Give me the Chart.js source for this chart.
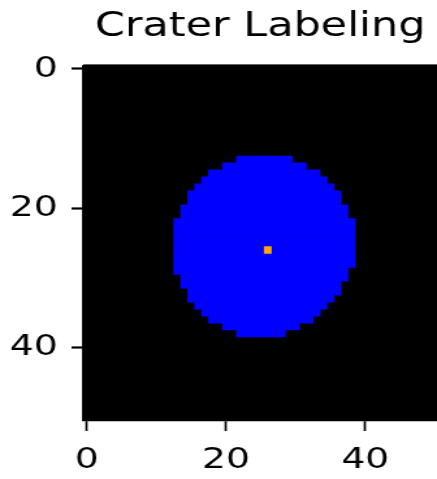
<!DOCTYPE html>
<html lang="en">
  <head>
    <meta charset="utf-8" />
    <title>Crater Labeling</title>
    <style>
      * {
        margin: 0;
        padding: 0;
      }
      body {
        background: white;
        width: 437px;
        height: 479px;
        overflow: hidden;
      }
      #myChart {
        display: block;
      }
    </style>
  </head>
  <body>
    <!-- drawn narrow, then stretched wide like the reference picture -->
    <canvas id="myChart" width="336" height="479" style="width: 437px; height: 479px"></canvas>

    <script src="https://cdn.jsdelivr.net/npm/chart.js@4.4.1/dist/chart.umd.min.js"></script>

    <script>
      // labelled cells of the 51 x 51 mask: one run of columns per row
      const craterRows = [13, 14, 15, 16, 17, 18, 19, 20, 21, 22, 23, 24, 25, 26, 27, 28, 29, 30, 31, 32, 33, 34, 35, 36, 37, 38];
      const craterStart = [22, 20, 18, 17, 16, 15, 15, 14, 14, 13, 13, 13, 13, 13, 13, 13, 13, 14, 14, 15, 15, 16, 17, 18, 20, 22];
      const craterEnd = [29, 31, 33, 34, 35, 36, 36, 37, 37, 38, 38, 38, 38, 38, 38, 38, 37, 37, 36, 36, 35, 34, 33, 32, 30, 28];
      const centerRow = [26];
      const centerCol = [26];
      const xTicks = [0, 20, 40];
      const yTicks = [0, 20, 40];

      Chart.defaults.font.family = "'DejaVu Sans', sans-serif";

      const cells = (rows, starts, ends) =>
        rows.map((r, i) => ({ y: r, x: [starts[i] - 0.5, ends[i] + 0.5] }));

      const blackImage = {
        id: "blackImage",
        beforeDraw(chart) {
          const { ctx, chartArea } = chart;
          ctx.save();
          ctx.fillStyle = "#fff";
          ctx.fillRect(0, 0, chart.width, chart.height);
          ctx.fillStyle = "#000";
          ctx.fillRect(chartArea.left, chartArea.top - 1.1, chartArea.width, chartArea.height + 1.1);
          ctx.restore();
        },
      };

      const barStyle = {
        barPercentage: 1,
        categoryPercentage: 1,
        grouped: false,
        borderWidth: 0,
      };

      const config = {
        type: "bar",
        data: {
          datasets: [
            {
              label: "crater",
              data: cells(craterRows, craterStart, craterEnd),
              backgroundColor: "#0000ff",
              order: 2,
              ...barStyle,
            },
            {
              label: "center",
              data: cells(centerRow, centerCol, centerCol),
              backgroundColor: "#ffa500",
              order: 1,
              ...barStyle,
            },
          ],
        },
        options: {
          indexAxis: "y",
          responsive: false,
          maintainAspectRatio: false,
          devicePixelRatio: 1,
          animation: false,
          events: [],
          layout: { padding: 0 },
          scales: {
            x: {
              type: "linear",
              position: "bottom",
              min: -0.5,
              max: 50.3,
              offset: false,
              afterBuildTicks: (s) => {
                s.ticks = xTicks.map((v) => ({ value: v }));
              },
              afterFit: (s) => {
                s.height = 58.5;
              },
              ticks: {
                color: "#000",
                font: { size: 29 },
                padding: 12,
                maxRotation: 0,
                autoSkip: false,
              },
              grid: {
                drawOnChartArea: false,
                drawTicks: true,
                tickLength: 10.5,
                tickWidth: 1.7,
                tickColor: "#000",
                offset: false,
              },
              border: { display: true, color: "#000", width: 2.2 },
            },
            y: {
              type: "linear",
              position: "left",
              reverse: true,
              min: -0.5,
              max: 50.5,
              offset: false,
              afterBuildTicks: (s) => {
                s.ticks = yTicks.map((v) => ({ value: v }));
              },
              afterFit: (s) => {
                s.width = 64;
              },
              ticks: {
                color: "#000",
                font: { size: 29 },
                padding: 10.5,
                autoSkip: false,
              },
              grid: {
                drawOnChartArea: false,
                drawTicks: true,
                tickLength: 9,
                tickWidth: 2.2,
                tickColor: "#000",
                offset: false,
              },
              border: { display: true, color: "#000", width: 1.7 },
            },
          },
          plugins: {
            legend: { display: false },
            tooltip: { enabled: false },
            title: {
              display: true,
              text: "Crater Labeling",
              color: "#000",
              fullSize: false,
              font: { size: 33, weight: "normal" },
              padding: { top: 8.1, bottom: 17.8 },
            },
          },
        },
        plugins: [blackImage],
      };

      const myChart = new Chart(document.getElementById("myChart"), config);
    </script>
  </body>
</html>
